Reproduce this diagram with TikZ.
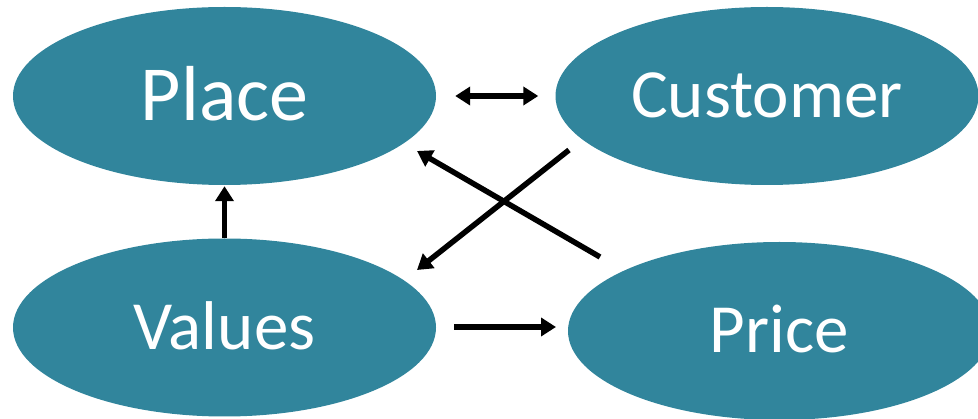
\documentclass[tikz,border=0pt]{standalone}
\usepackage{fontspec}
\setmainfont{Carlito}
\usetikzlibrary{shapes.geometric,arrows.meta}
\definecolor{teal5}{HTML}{31859C}
\tikzset{
  oval/.style={ellipse, fill=teal5, draw=none, inner sep=0pt,
    minimum width=423pt, minimum height=178pt, text=white,
    font=\fontsize{69}{80}\selectfont, text height=43.6pt, text depth=0pt},
  bigoval/.style={oval, font=\fontsize{78}{90}\selectfont, text height=49.3pt},
  tip/.style={},
  conn/.style={line width=5.5pt, -{Triangle[length=15pt,width=18pt]}},
  conn2/.style={line width=5.5pt, {Triangle[length=15pt,width=18pt]}-{Triangle[length=15pt,width=18pt]}}
}
\begin{document}
\begin{tikzpicture}[x=1pt,y=-1pt]
\useasboundingbox (0,0) rectangle (978,419);
\node[bigoval] (place) at (224.5,96) {Place};
\node[oval] (customer) at (767,96) {Customer};
\node[oval] (values) at (224.5,327.5) {Values};
\node[oval] (price) at (779.5,331) {Price};
% arrow end points
\coordinate (cvS) at (569,150);
\coordinate (cvE) at (417,270);
\coordinate (ppS) at (600,257);
\coordinate (ppE) at (417,151);
\coordinate (vpS) at (454,327);
\coordinate (vpE) at (556,327);
\draw[conn2, shorten <=19pt, shorten >=17pt] (place.east) -- (customer.west);
\draw[conn, shorten >=1pt] (values.north) -- (place.south);
\draw[conn] (cvS) -- (cvE);
\draw[conn] (ppS) -- (ppE);
\draw[conn] (vpS) -- (vpE);
\end{tikzpicture}
\end{document}
